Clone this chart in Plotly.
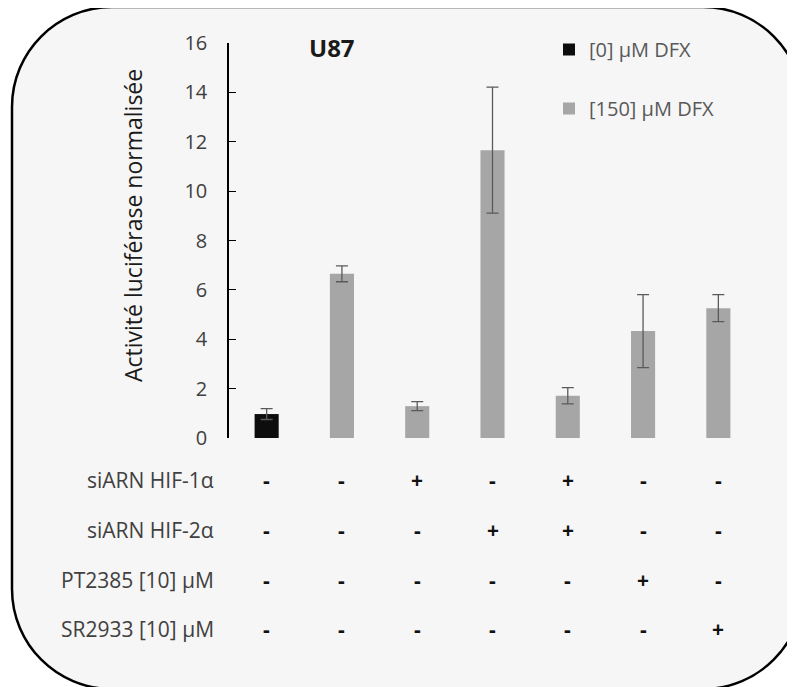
import plotly.graph_objects as go

# ---------------- data ----------------
categories = ["c1", "c2", "c3", "c4", "c5", "c6", "c7"]
dfx0_categories = ["c1"]
dfx0_values = [0.97]
dfx0_errors = [0.22]
dfx150_categories = ["c2", "c3", "c4", "c5", "c6", "c7"]
dfx150_values = [6.65, 1.29, 11.66, 1.71, 4.33, 5.26]
dfx150_errors = [0.32, 0.18, 2.55, 0.33, 1.48, 0.55]

row_labels = ["siARN HIF-1α", "siARN HIF-2α", "PT2385 [10] µM", "SR2933 [10] µM"]
sign_hif1 = ["-", "-", "+", "-", "+", "-", "-"]
sign_hif2 = ["-", "-", "-", "+", "+", "-", "-"]
sign_pt2385 = ["-", "-", "-", "-", "-", "+", "-"]
sign_sr2933 = ["-", "-", "-", "-", "-", "-", "+"]
sign_rows = [sign_hif1, sign_hif2, sign_pt2385, sign_sr2933]

y_ticks = [0, 2, 4, 6, 8, 10, 12, 14, 16]

# ---------------- layout geometry ----------------
# page has an 8px body margin, so the figure is made 8px smaller
W, H = 787, 679
ML, MT, MR, MB = 221, 35, 39, 249
PW, PH = W - ML - MR, H - MT - MB
OFF = 8  # page offset

def px(x):  # page pixel -> paper
    return (x - OFF - ML) / PW

def py(y):
    return 1 - (y - OFF - MT) / PH

FONT = "Open Sans"
TXT = "#404040"

fig = go.Figure()
fig.add_trace(go.Bar(
    x=dfx0_categories, y=dfx0_values, name="[0] µM DFX",
    marker=dict(color="#0d0d0d", line=dict(width=0)), width=0.32,
    error_y=dict(type="data", array=dfx0_errors, color="#5a5a5a", thickness=1.3, width=6),
    legendgroup="a",
))
fig.add_trace(go.Bar(
    x=dfx150_categories, y=dfx150_values, name="[150] µM DFX",
    marker=dict(color="#a6a6a6", line=dict(width=0)), width=0.32,
    error_y=dict(type="data", array=dfx150_errors, color="#5a5a5a", thickness=1.3, width=6),
    legendgroup="b",
))

# rounded frame
def rounded_path(L, T, R, B, r):
    k = 0.5523 * r
    def P(x, y):
        return f"{px(x):.5f},{py(y):.5f}"
    s = f"M {P(L, T + r)} "
    s += f"C {P(L, T + r - k)} {P(L + r - k, T)} {P(L + r, T)} "
    s += f"L {P(R - r, T)} "
    s += f"C {P(R - r + k, T)} {P(R, T + r - k)} {P(R, T + r)} "
    s += f"L {P(R, B - r)} "
    s += f"C {P(R, B - r + k)} {P(R - r + k, B)} {P(R - r, B)} "
    s += f"L {P(L + r, B)} "
    s += f"C {P(L + r - k, B)} {P(L, B - r + k)} {P(L, B - r)} Z"
    return s

fig.add_shape(type="path", xref="paper", yref="paper",
              path=rounded_path(12, 7, 803, 689, 100),
              fillcolor="#f6f6f6", line=dict(color="black", width=2.5), layer="below")

annotations = []
# title
annotations.append(dict(text="<b>U87</b>", x=px(332), y=py(47), xref="paper", yref="paper",
                        showarrow=False, font=dict(family=FONT, size=24, color="#1a1a1a"),
                        xanchor="center", yanchor="middle"))
# y axis title
annotations.append(dict(text="Activité luciférase normalisée", x=px(133), y=py(226),
                        xref="paper", yref="paper", showarrow=False, textangle=-90,
                        font=dict(family=FONT, size=23, color="#1a1a1a"),
                        xanchor="center", yanchor="middle"))
# table
row_y = [480, 530, 580, 629]
for label, ypix, signs in zip(row_labels, row_y, sign_rows):
    annotations.append(dict(text=label, x=px(216), y=py(ypix), xref="paper", yref="paper",
                            showarrow=False, xanchor="right", yanchor="middle",
                            font=dict(family=FONT, size=21, color=TXT)))
    for cat, sgn in zip(categories, signs):
        annotations.append(dict(text=f"<b>{sgn}</b>", x=cat, y=py(ypix), xref="x", yref="paper",
                                showarrow=False, xanchor="center", yanchor="middle",
                                font=dict(family=FONT, size=21, color="#111111")))

fig.update_layout(
    width=W, height=H,
    margin=dict(l=ML, r=MR, t=MT, b=MB),
    paper_bgcolor="white", plot_bgcolor="rgba(0,0,0,0)",
    barmode="overlay",
    showlegend=True,
    legend=dict(x=px(549), y=py(30), xanchor="left", yanchor="top",
                bgcolor="rgba(0,0,0,0)", font=dict(family=FONT, size=20, color="#595959"),
                tracegroupgap=30, traceorder="grouped"),
    xaxis=dict(type="category", categoryorder="array", categoryarray=categories,
               range=[-0.5, 6.5], showticklabels=False, showline=False, showgrid=False,
               zeroline=False, ticks=""),
    yaxis=dict(range=[0, 16], tickvals=y_ticks, showline=True, linecolor="black", linewidth=1.5,
               ticks="inside", ticklen=7, tickcolor="black", tickwidth=1.3,
               showgrid=False, zeroline=False, ticklabelstandoff=16,
               tickfont=dict(family=FONT, size=20, color=TXT)),
    annotations=annotations,
    font=dict(family=FONT),
)

fig.write_html("out.html")
